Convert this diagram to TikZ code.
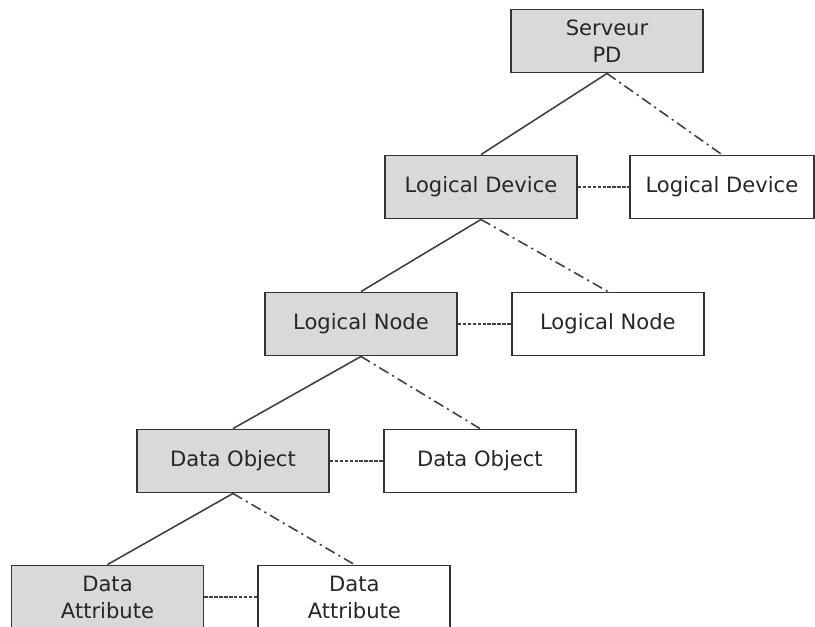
\documentclass[tikz,border=0pt]{standalone}
\usepackage{fontspec}
\setmainfont{DejaVu Sans}
\usetikzlibrary{positioning}

\tikzset{
  box/.style={draw=black!80, line width=1.1pt, minimum width=3.84cm, minimum height=1.26cm,
              align=center, inner sep=1pt, font=\fontsize{12}{15.4}\selectfont, text=black!85},
  greybox/.style={box, fill=black!15},
  son/.style={draw=black!75, line width=0.9pt},
  brother/.style={draw=black!75, line width=0.9pt, dash pattern=on 6pt off 2.5pt on 1.2pt off 2.5pt},
  peer/.style={draw=black!75, line width=0.9pt, dash pattern=on 2pt off 0.8pt}
}

\begin{document}
\begin{tikzpicture}[x=0.02cm, y=0.02cm, node distance=1.06cm]
\useasboundingbox (0,0) rectangle (815,-626);

\node [greybox] (Srv) at (607,-41) {Serveur\\PD};

\node [greybox] (LDev) at (481,-187) {Logical Device};
\node [box, right=1.02cm of LDev, minimum width=3.68cm] (LDev2) {Logical Device};

\node [greybox] (LNode) at (361,-324) {Logical Node};
\node [box, right=of LNode] (LNode2) {Logical Node};

\node [greybox] (DObj) at (233,-461) {Data Object};
\node [box, right=of DObj] (DObj2) {Data Object};

\node [greybox] (DAttr) at (107.5,-597) {Data\\Attribute};
\node [box, right=of DAttr] (DAttr2) {Data\\Attribute};

% tree links
\draw [son] (Srv.south) -- (LDev.north);
\draw [brother] (Srv.south) -- (LDev2.north);
\draw [son] (LDev.south) -- (LNode.north);
\draw [brother] (LDev.south) -- (LNode2.north);
\draw [son] (LNode.south) -- (DObj.north);
\draw [brother] (LNode.south) -- (DObj2.north);
\draw [son] (DObj.south) -- (DAttr.north);
\draw [brother] (DObj.south) -- (DAttr2.north);

% same level
\draw [peer] (LDev) -- (LDev2);
\draw [peer] (LNode) -- (LNode2);
\draw [peer] (DObj) -- (DObj2);
\draw [peer] (DAttr) -- (DAttr2);

\end{tikzpicture}
\end{document}
